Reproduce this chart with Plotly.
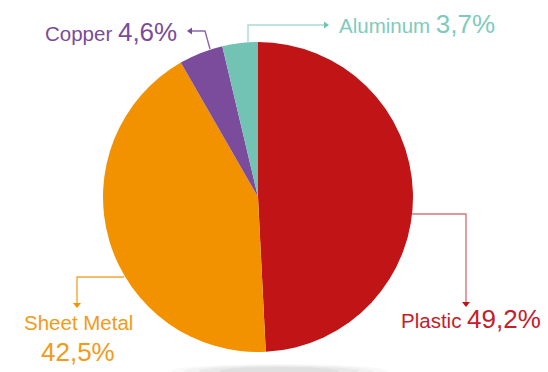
import plotly.graph_objects as go

W, H = 548, 372

labels = ["Plastic", "Sheet Metal", "Copper", "Aluminum"]
values = [49.2, 42.5, 4.6, 3.7]
value_text = ["49,2%", "42,5%", "4,6%", "3,7%"]
colors = ["#C01417", "#F39200", "#7B4B9C", "#72C3B3"]
text_colors = ["#C5202A", "#F39A1A", "#7B4B9C", "#7ECBBE"]
line_colors = ["#D9767A", "#F5A734", "#8E66AA", "#A9DCD2"]

FONT = "Liberation Sans, Arial, sans-serif"


def px(x):
    return x / W


def py(y):
    return 1 - y / H


fig = go.Figure()
fig.add_trace(go.Pie(
    labels=labels,
    values=values,
    marker=dict(colors=colors, line=dict(width=0)),
    sort=False,
    direction="clockwise",
    rotation=0,
    textinfo="none",
    hoverinfo="label+percent",
    showlegend=False,
    domain=dict(x=[px(103), px(413)], y=[py(352), py(42)]),
))

shapes = []


def path(points, color):
    d = "M " + " L ".join(f"{px(x)},{py(y)}" for x, y in points)
    shapes.append(dict(type="path", path=d, xref="paper", yref="paper",
                       line=dict(color=color, width=1.4)))


def head(tip, direction, color, size=8, length=5):
    x, y = tip
    h = size / 2
    if direction == "down":
        pts = [(x, y), (x - h, y - length), (x + h, y - length)]
    elif direction == "left":
        pts = [(x, y), (x + length, y - h), (x + length, y + h)]
    else:  # right
        pts = [(x, y), (x - length, y - h), (x - length, y + h)]
    d = "M " + " L ".join(f"{px(a)},{py(b)}" for a, b in pts) + " Z"
    shapes.append(dict(type="path", path=d, xref="paper", yref="paper",
                       fillcolor=color, line=dict(width=0)))


# shadow under pie
for rx, ry, op in [(108, 7, 0.05), (95, 6, 0.06), (80, 5, 0.07), (60, 4, 0.08)]:
    cx, cy = 279, 371
    shapes.append(dict(type="circle", xref="paper", yref="paper",
                       x0=px(cx - rx), x1=px(cx + rx), y0=py(cy + ry), y1=py(cy - ry),
                       fillcolor="#808080", opacity=op, line=dict(width=0), layer="below"))

# Plastic leader
path([(412, 214), (466, 214), (466, 303)], line_colors[0])
head((466, 307), "down", colors[0])
# Sheet Metal leader
path([(124, 277), (77, 277), (77, 304)], line_colors[1])
head((77, 308), "down", colors[1])
# Copper leader
path([(210, 49), (205, 31), (192, 31)], line_colors[2])
head((187, 31), "left", colors[2], size=7)
# Aluminum leader
path([(248, 43), (248, 25), (325, 25)], line_colors[3])
head((329, 25), "right", colors[3], size=7)

ann = []


def label(x, y, text, color, xanchor):
    ann.append(dict(x=px(x), y=py(y), xref="paper", yref="paper", text=text,
                    showarrow=False, xanchor=xanchor, yanchor="middle",
                    font=dict(family=FONT, size=20.5, color=color)))


big = "<span style='font-size:26px'>{}</span>"
label(179, 32, f"{labels[2]} " + big.format(value_text[2]), text_colors[2], "right")
label(337, 24, f"{labels[3]} " + big.format(value_text[3]), text_colors[3], "left")
label(399, 319, f"{labels[0]} " + big.format(value_text[0]), text_colors[0], "left")
label(78, 322, labels[1], text_colors[1], "center")
ann.append(dict(x=px(78), y=py(352), xref="paper", yref="paper", text=value_text[1],
                showarrow=False, xanchor="center", yanchor="middle",
                font=dict(family=FONT, size=26, color=text_colors[1])))

fig.update_layout(
    width=W, height=H,
    margin=dict(l=0, r=0, t=0, b=0),
    paper_bgcolor="white", plot_bgcolor="white",
    shapes=shapes, annotations=ann,
    showlegend=False,
)

fig.write_html("out.html",
               config={"displayModeBar": False},
               post_script="document.body.style.margin='0';document.body.style.overflow='hidden';")
